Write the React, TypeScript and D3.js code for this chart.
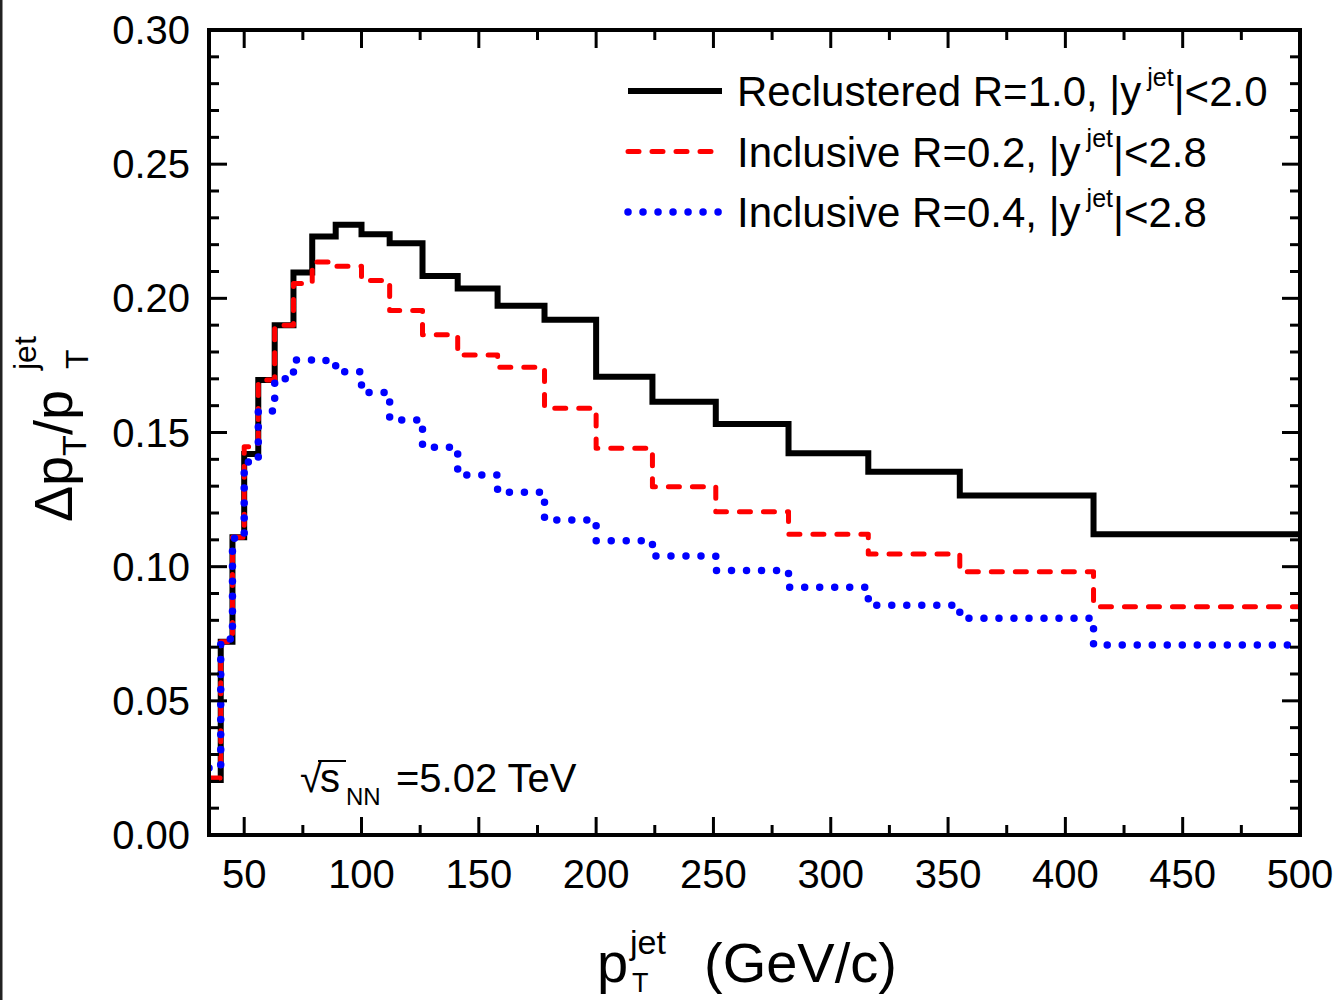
import React from "react";
import * as d3 from "d3";

const binEdges = [35, 40, 45, 50, 56, 63, 71, 79, 89, 100, 112, 126, 141, 158, 178, 200, 224, 251, 282, 316, 355, 412, 500];
const reclusteredR10 = [0.0205, 0.072, 0.111, 0.142, 0.1696, 0.190, 0.2096, 0.223, 0.2274, 0.2239, 0.2205, 0.2083, 0.2037, 0.1972, 0.192, 0.1708, 0.1615, 0.1532, 0.1423, 0.1354, 0.1265, 0.1121];
const inclusiveR02 = [0.0212, 0.072, 0.111, 0.1447, 0.1696, 0.190, 0.2055, 0.2135, 0.212, 0.2066, 0.1955, 0.1864, 0.1789, 0.1743, 0.159, 0.1441, 0.1298, 0.1205, 0.1121, 0.1047, 0.0981, 0.0851];
const inclusiveR04 = [0.025, 0.073, 0.1106, 0.139, 0.158, 0.170, 0.177, 0.1768, 0.1726, 0.1649, 0.1547, 0.1445, 0.1342, 0.1277, 0.1174, 0.1097, 0.104, 0.0986, 0.0923, 0.0856, 0.0808, 0.0708];

const xMajorTicks = [50, 100, 150, 200, 250, 300, 350, 400, 450, 500];
const xMinorTicks = [75, 125, 175, 225, 275, 325, 375, 425, 475];
const yMajorTicks = [0, 0.05, 0.1, 0.15, 0.2, 0.25, 0.3];
const yMinorTicks = d3.range(1, 30).map((i) => i / 100).filter((v) => Math.round(v * 100) % 5 !== 0);

const legendItems = [
  { label: "Reclustered R=1.0, |y", sup: "jet", tail: "|<2.0", color: "#000", dash: "none", width: 6, cap: "butt" },
  { label: "Inclusive R=0.2, |y", sup: "jet", tail: "|<2.8", color: "#ff0000", dash: "11,13", width: 5, cap: "round" },
  { label: "Inclusive R=0.4, |y", sup: "jet", tail: "|<2.8", color: "#0000ff", dash: "0.01,15", width: 7.5, cap: "round" },
];

const W = 1343, H = 1000;
const L = 209, R = 1300, T = 30, B = 835;
const FONT = "'Liberation Sans', Arial, sans-serif";

export default function App() {
  const x = d3.scaleLinear().domain([35, 500]).range([L, R]);
  const y = d3.scaleLinear().domain([0, 0.3]).range([B, T]);
  const line = d3
    .line<[number, number]>()
    .x((d) => x(d[0]))
    .y((d) => y(d[1]))
    .curve(d3.curveStepAfter);
  const pts = (vals: number[]): [number, number][] => {
    const p: [number, number][] = vals.map((v, i) => [binEdges[i], v]);
    p.push([binEdges[binEdges.length - 1], vals[vals.length - 1]]);
    return p;
  };
  const series = [
    { vals: reclusteredR10, ...legendItems[0] },
    { vals: inclusiveR02, ...legendItems[1] },
    { vals: inclusiveR04, ...legendItems[2] },
  ];
  const MAJ = 18, MIN = 10;
  return (
    <svg width={W} height={H} style={{ position: "absolute", left: 0, top: 0, background: "#fff" }} fontFamily={FONT}>
      <rect x={0} y={0} width={W} height={H} fill="#fff" />
      <rect x={0} y={0} width={2.5} height={H} fill="#222" />
      <defs>
        <clipPath id="plot">
          <rect x={L} y={T} width={R - L} height={B - T} />
        </clipPath>
      </defs>
      <g clipPath="url(#plot)">
        {series.map((s, i) => (
          <path key={i} d={line(pts(s.vals)) || ""} fill="none" stroke={s.color} strokeWidth={s.width}
            strokeDasharray={s.dash} strokeLinecap={s.cap as any} strokeLinejoin={i === 0 ? "miter" : "round"} />
        ))}
      </g>
      {/* ticks */}
      <g stroke="#000" strokeWidth={3}>
        {xMajorTicks.map((t) => (
          <g key={"xM" + t}>
            <line x1={x(t)} x2={x(t)} y1={B} y2={B - MAJ} />
            <line x1={x(t)} x2={x(t)} y1={T} y2={T + MAJ} />
          </g>
        ))}
        {xMinorTicks.map((t) => (
          <g key={"xm" + t}>
            <line x1={x(t)} x2={x(t)} y1={B} y2={B - MIN} />
            <line x1={x(t)} x2={x(t)} y1={T} y2={T + MIN} />
          </g>
        ))}
        {yMajorTicks.map((t) => (
          <g key={"yM" + t}>
            <line x1={L} x2={L + MAJ} y1={y(t)} y2={y(t)} />
            <line x1={R} x2={R - MAJ} y1={y(t)} y2={y(t)} />
          </g>
        ))}
        {yMinorTicks.map((t) => (
          <g key={"ym" + t}>
            <line x1={L} x2={L + MIN} y1={y(t)} y2={y(t)} />
            <line x1={R} x2={R - MIN} y1={y(t)} y2={y(t)} />
          </g>
        ))}
      </g>
      <rect x={L} y={T} width={R - L} height={B - T} fill="none" stroke="#000" strokeWidth={4} />
      {/* tick labels */}
      <g fontSize={40} fill="#000">
        {xMajorTicks.map((t) => (
          <text key={"xl" + t} x={x(t)} y={888} textAnchor="middle">{t}</text>
        ))}
        {yMajorTicks.map((t) => (
          <text key={"yl" + t} x={190} y={y(t) + 14} textAnchor="end">{d3.format(".2f")(t)}</text>
        ))}
      </g>
      {/* legend */}
      {series.map((s, i) => {
        const ly = 91 + i * 60.5;
        return (
          <g key={"lg" + i}>
            <line x1={628} x2={722} y1={ly} y2={ly} stroke={s.color} strokeWidth={s.width}
              strokeDasharray={s.dash} strokeLinecap={s.cap as any} />
            <text x={737} y={ly + 15} fontSize={42}>
              {s.label}
              <tspan dx={6} dy={-20} fontSize={25}>{s.sup}</tspan>
              <tspan dy={20}>{s.tail}</tspan>
            </text>
          </g>
        );
      })}
      {/* annotation */}
      <g fontSize={40}>
        <text x={300} y={792}>√</text>
        <line x1={318} x2={346} y1={761} y2={761} stroke="#000" strokeWidth={2} />
        <text x={320} y={792}>s</text>
        <text x={346} y={805} fontSize={24}>NN</text>
        <text x={396} y={792}>=5.02 TeV</text>
      </g>
      {/* x title */}
      <g fontSize={56}>
        <text x={597} y={982}>p</text>
        <text x={630} y={954} fontSize={34}>jet</text>
        <text x={632} y={992} fontSize={27}>T</text>
        <text x={704} y={982}>(GeV/c)</text>
      </g>
      {/* y title */}
      <g transform="translate(72,522) rotate(-90)" fontSize={54}>
        <text x={0} y={0}>
          Δp
          <tspan dy={14} fontSize={34}>T</tspan>
          <tspan dy={-14}>/p</tspan>
        </text>
        <text x={153} y={16} fontSize={32}>T</text>
        <text x={152} y={-36} fontSize={32}>jet</text>
      </g>
    </svg>
  );
}
